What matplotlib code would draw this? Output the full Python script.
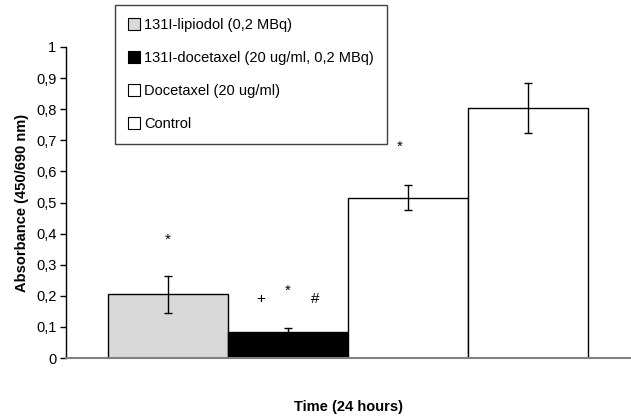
import matplotlib.pyplot as plt
from matplotlib.patches import Patch

# Данные
groups = ['131I-lipiodol (0,2 MBq)', '131I-docetaxel (20 ug/ml, 0,2 MBq)',
          'Docetaxel (20 ug/ml)', 'Control']
values = [0.205, 0.085, 0.515, 0.805]
errors = [0.06, 0.01, 0.04, 0.08]
colors = ['#d9d9d9', '#000000', '#ffffff', '#ffffff']
yticks = [0, 0.1, 0.2, 0.3, 0.4, 0.5, 0.6, 0.7, 0.8, 0.9, 1.0]
ytick_labels = ['0', '0,1', '0,2', '0,3', '0,4', '0,5', '0,6', '0,7', '0,8', '0,9', '1']

# Значимость: (индекс столбца, смещение по x, высота, символ)
marks = [(0, 0.0, 0.38, '*'),
         (1, -0.23, 0.19, '+'), (1, 0.0, 0.215, '*'), (1, 0.23, 0.19, '#'),
         (2, -0.07, 0.68, '*')]

plt.rcParams['font.family'] = ['Liberation Sans', 'DejaVu Sans']

fig = plt.figure(figsize=(6.31, 4.17), dpi=100)
ax = fig.add_axes([66 / 631, 1 - 358 / 417, 1 - 66 / 631, (358 - 47) / 417])

x = list(range(len(values)))
ax.bar(x, values, width=1.0, color=colors, edgecolor='black', linewidth=1.0, zorder=2)
ax.errorbar(x, values, yerr=errors, fmt='none', ecolor='black', elinewidth=1.0,
            capsize=3, capthick=1.0, zorder=3)

for i, dx, h, s in marks:
    ax.text(x[i] + dx, h, s, ha='center', va='center', fontsize=11)

ax.set_xlim(-0.85, 3.86)
ax.set_ylim(0, 1)
ax.set_yticks(yticks)
ax.set_yticklabels(ytick_labels, fontsize=10.5)
ax.set_xticks([])
ax.tick_params(axis='y', direction='out', length=4, width=1, pad=3)

ax.spines['top'].set_visible(False)
ax.spines['right'].set_visible(False)
ax.spines['bottom'].set_color('#808080')
ax.spines['bottom'].set_linewidth(1.5)
ax.spines['left'].set_linewidth(1.0)

ax.set_ylabel('Absorbance (450/690 nm)', fontsize=10.5, fontweight='bold', labelpad=5)
fig.text(348 / 631, 1 - 407 / 417, 'Time (24 hours)', ha='center', va='center',
         fontsize=10.5, fontweight='bold')

handles = [Patch(facecolor=c, edgecolor='black', linewidth=0.8) for c in colors]
leg = fig.legend(handles, groups, loc='upper left',
                 bbox_to_anchor=(115 / 631, 1 - 5 / 417), fontsize=10.5,
                 frameon=True, fancybox=False, framealpha=1, edgecolor='#404040',
                 handlelength=0.8, handleheight=0.8, handletextpad=0.3,
                 labelspacing=1.3, borderpad=0.9, borderaxespad=0)
leg.get_frame().set_linewidth(1.0)

plt.savefig('out.png', dpi=100)
